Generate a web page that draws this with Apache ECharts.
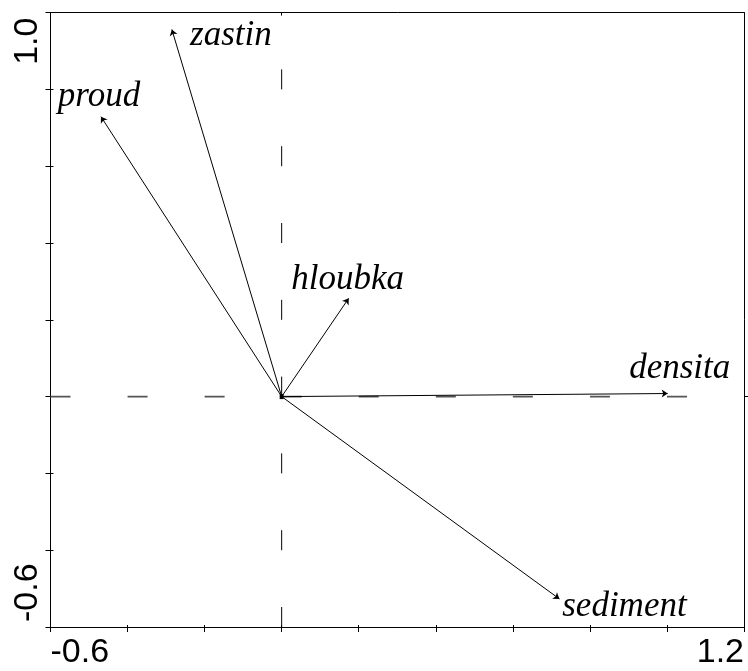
<!DOCTYPE html>
<html>
<head>
<meta charset="utf-8">
<script src="https://cdn.jsdelivr.net/npm/echarts@6/dist/echarts.min.js"></script>
<style>
  html, body { margin: 0; padding: 0; background: #fff; }
  #chart { width: 748px; height: 671px; }
</style>
</head>
<body>
<div id="chart"></div>
<script>
// Environmental variables with their biplot scores on ordination axes 1 and 2
const variables = ['zastin', 'proud', 'hloubka', 'densita', 'sediment'];
const axis1 = [-0.285, -0.469, 0.174, 1.002, 0.721];
const axis2 = [0.956, 0.729, 0.256, 0.008, -0.527];

// Axis extents and the end labels printed on them
const xRange = [-0.6, 1.2];
const yRange = [-0.6, 1.0];
const tickStep = 0.2;
const xTickLabels = ['-0.6', '1.2'];
const yTickLabels = ['-0.6', '1.0'];

// Where each variable name sits relative to its arrow tip (px)
const labelOffset = {
  zastin: [59, 6],
  proud: [-2, -20],
  hloubka: [-1, -18],
  densita: [12, -25],
  sediment: [65, 8]
};

const near = (a, b) => Math.abs(a - b) < 1e-6;
const tickFont = { fontFamily: 'Liberation Sans, Arial, sans-serif', fontSize: 34, color: '#000' };
const black = { color: '#000', width: 1 };

function xAxisCfg(extra) {
  return Object.assign({
    type: 'value', min: xRange[0], max: xRange[1], interval: tickStep,
    splitLine: { show: false },
    axisLine: { show: true, onZero: false, lineStyle: black },
    axisTick: { show: true, lineStyle: black },
    axisLabel: { show: false }
  }, extra);
}
function yAxisCfg(extra) {
  return Object.assign({
    type: 'value', min: yRange[0], max: yRange[1], interval: tickStep,
    splitLine: { show: false },
    axisLine: { show: true, onZero: false, lineStyle: black },
    axisTick: { show: true, lineStyle: black },
    axisLabel: { show: false }
  }, extra);
}

const chart = echarts.init(document.getElementById('chart'), null, { renderer: 'canvas' });

const arrows = variables.map((name, i) => ({
  name: name,
  coords: [[0, 0], [axis1[i], axis2[i]]]
}));

const tips = variables.map((name, i) => ({
  name: name,
  value: [axis1[i], axis2[i]],
  label: { offset: labelOffset[name] }
}));

chart.setOption({
  animation: false,
  backgroundColor: '#fff',
  grid: { left: 50.5, right: 4, top: 12.6, bottom: 44, containLabel: false },
  xAxis: [
    xAxisCfg({
      position: 'bottom',
      axisTick: { show: true, inside: false, length: 5, lineStyle: black },
      axisLabel: Object.assign({
        show: true, align: 'left', margin: 9,
        formatter: v => near(v, xRange[0]) ? xTickLabels[0] : ''
      }, tickFont)
    }),
    xAxisCfg({
      position: 'bottom',
      axisTick: { show: true, inside: true, length: 2, lineStyle: black },
      axisLabel: Object.assign({
        show: true, align: 'right', margin: 9,
        formatter: v => near(v, xRange[1]) ? xTickLabels[1] : ''
      }, tickFont)
    }),
    xAxisCfg({
      position: 'top',
      axisTick: { show: true, inside: true, length: 3, customValues: [0], lineStyle: black }
    })
  ],
  yAxis: [
    yAxisCfg({
      position: 'left',
      axisTick: { show: true, inside: false, length: 5, lineStyle: black },
      axisLabel: Object.assign({
        show: true, rotate: 90, align: 'left', margin: 6,
        padding: [0, 0, 0, 5],
        formatter: v => near(v, yRange[0]) ? yTickLabels[0] : ''
      }, tickFont)
    }),
    yAxisCfg({
      position: 'left',
      axisTick: { show: true, inside: true, length: 3, lineStyle: black },
      axisLabel: Object.assign({
        show: true, rotate: 90, align: 'right', margin: 6,
        padding: [0, 5, 0, 0],
        formatter: v => near(v, yRange[1]) ? yTickLabels[1] : ''
      }, tickFont)
    }),
    yAxisCfg({
      position: 'right',
      axisTick: { show: true, inside: false, length: 6, customValues: [0], lineStyle: black }
    })
  ],
  series: [
    {
      // dashed reference line through x = 0
      type: 'line',
      data: [[0, yRange[0]], [0, yRange[1]]],
      showSymbol: false, silent: true, z: 1,
      lineStyle: { color: '#000', width: 1, type: [20, 56.8] }
    },
    {
      // dashed reference line through y = 0
      type: 'line',
      data: [[xRange[0], 0], [xRange[1], 0]],
      showSymbol: false, silent: true, z: 1,
      lineStyle: { color: '#555', width: 1.6, type: [20, 57.06] }
    },
    {
      // variable arrows from the origin
      type: 'lines',
      coordinateSystem: 'cartesian2d',
      data: arrows,
      symbol: ['none', 'arrow'],
      symbolSize: 6,
      z: 3,
      lineStyle: { color: '#000', width: 1, opacity: 1, curveness: 0 }
    },
    {
      // variable names near arrow tips
      type: 'scatter',
      data: tips,
      symbolSize: 0,
      silent: true,
      z: 4,
      itemStyle: { opacity: 1 },
      label: {
        show: true,
        position: 'inside',
        align: 'center',
        verticalAlign: 'middle',
        formatter: p => p.name,
        fontFamily: 'Liberation Serif, Times New Roman, serif',
        fontStyle: 'italic',
        fontSize: 35,
        color: '#000',
        opacity: 1
      }
    },
    {
      // origin marker
      type: 'scatter',
      data: [[0, 0]],
      symbol: 'rect',
      symbolSize: [4, 5],
      silent: true,
      z: 4,
      itemStyle: { color: '#000', opacity: 1 }
    }
  ]
});
</script>
</body>
</html>
